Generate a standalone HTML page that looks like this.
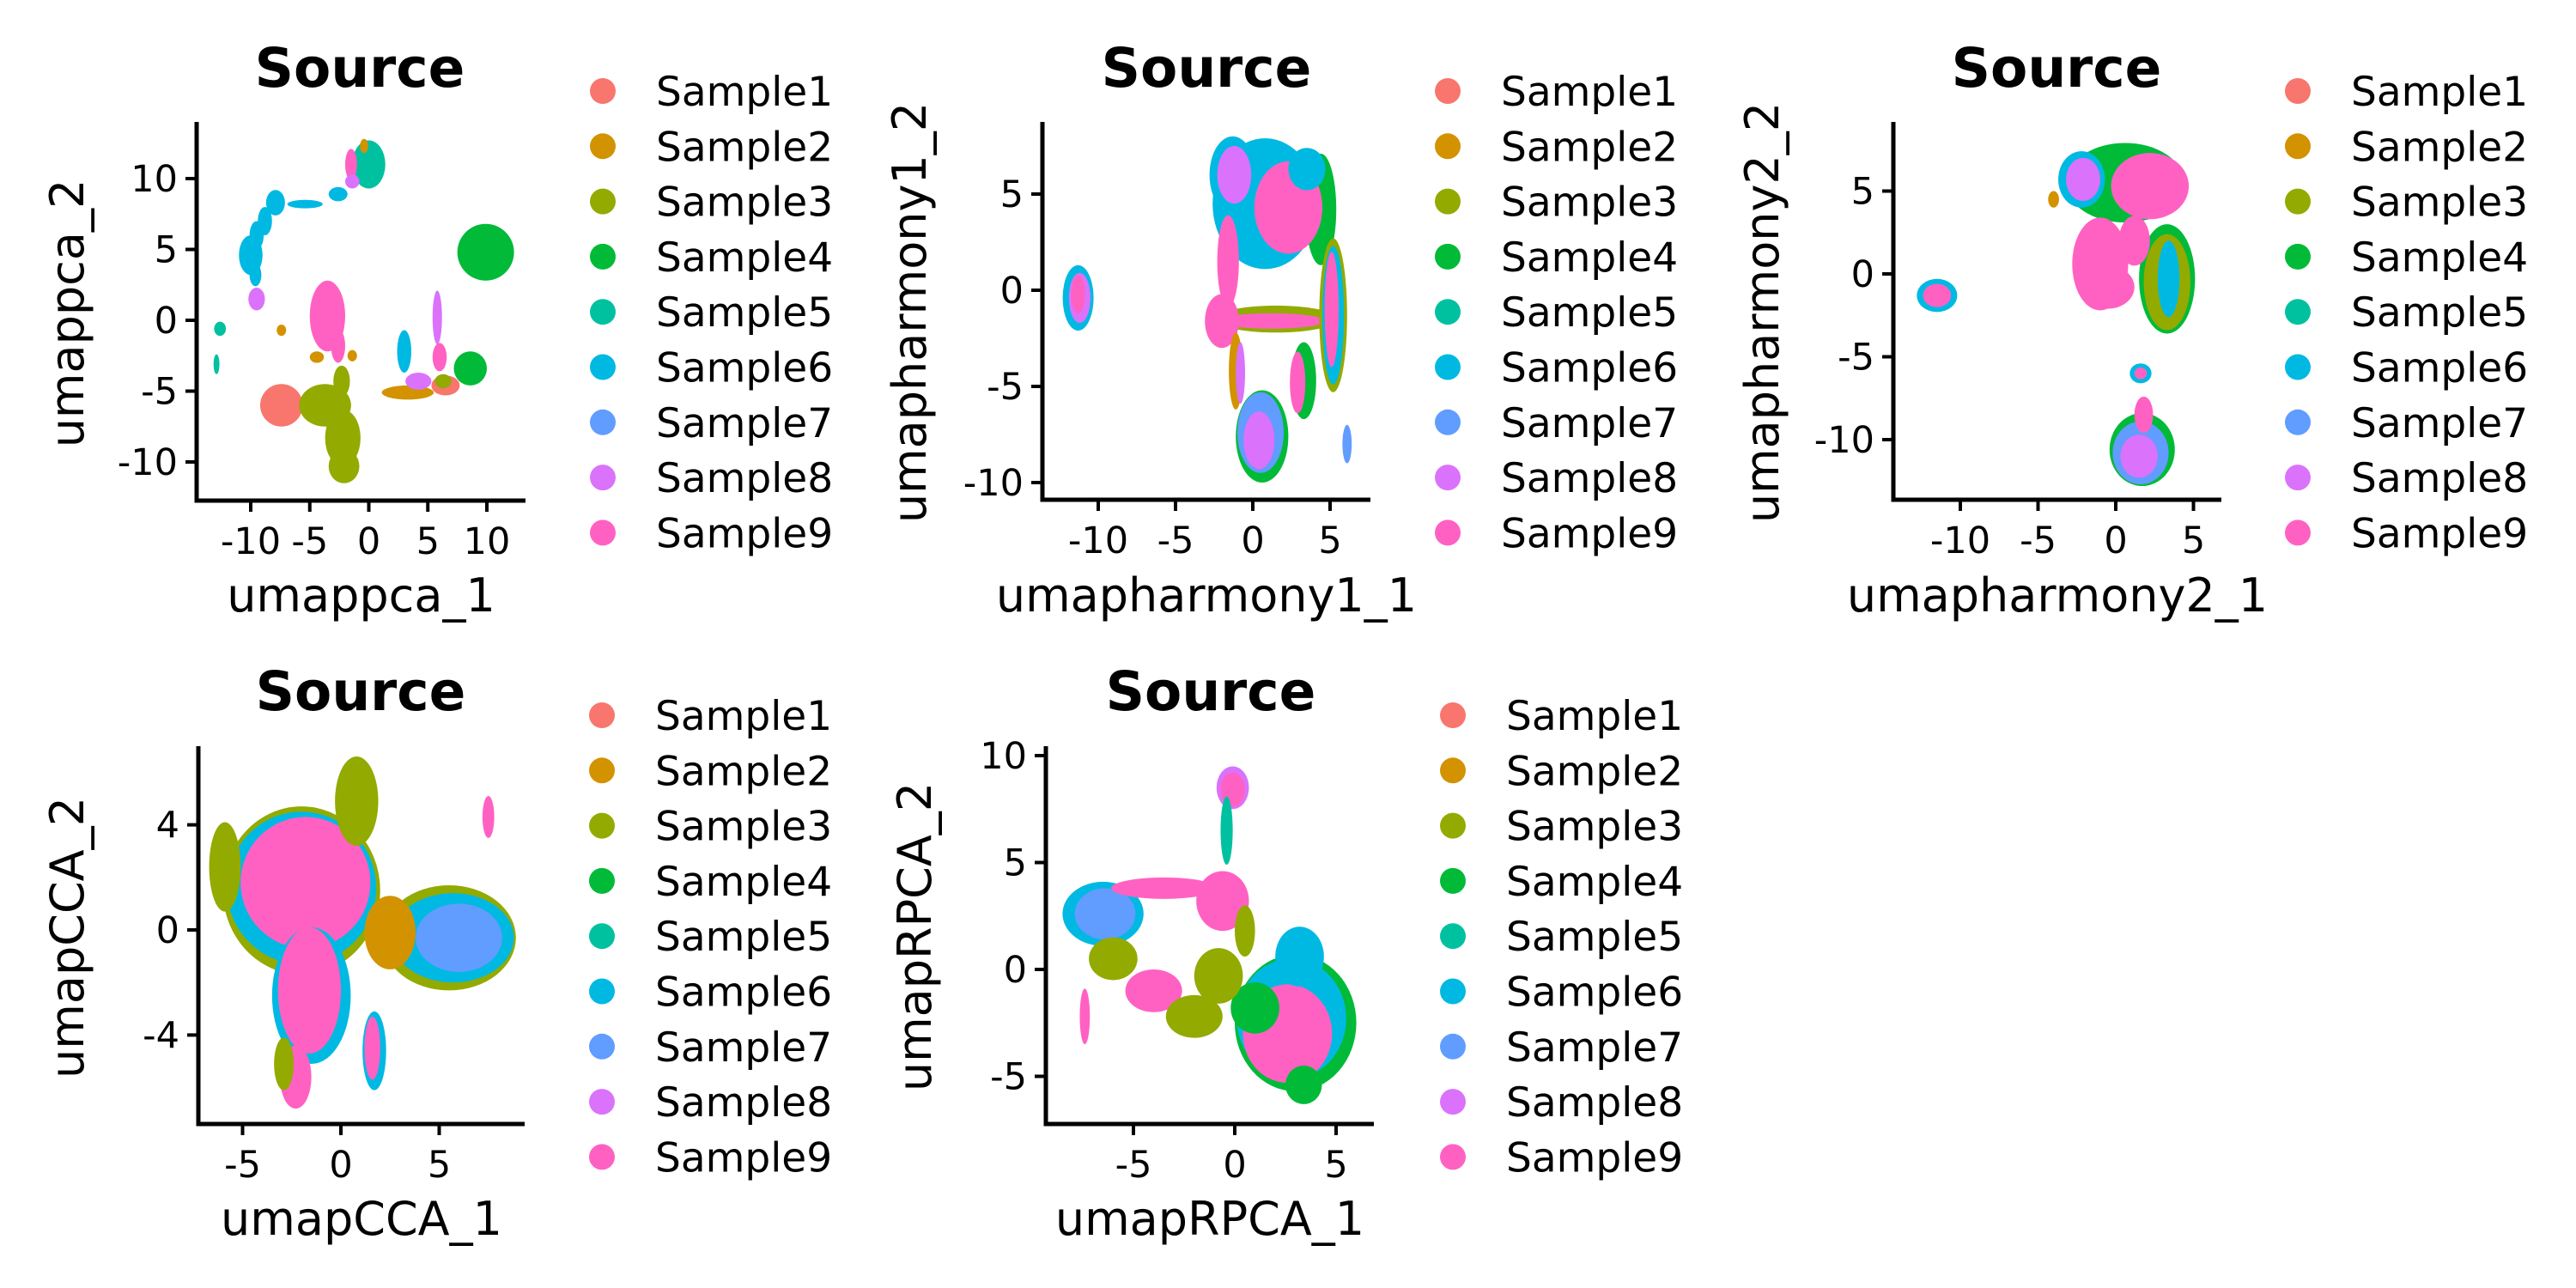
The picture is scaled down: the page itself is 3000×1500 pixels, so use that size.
<!DOCTYPE html>
<html><head><meta charset="utf-8"><style>
html,body{margin:0;padding:0;background:#fff}
svg{display:block}
text{font-family:"DejaVu Sans","Liberation Sans",sans-serif;fill:#000}
</style></head><body>
<svg id="fig" width="3000" height="1500" viewBox="0 0 3000 1500" xmlns="http://www.w3.org/2000/svg"></svg>
<script>
const sampleNames=["Sample1","Sample2","Sample3","Sample4","Sample5","Sample6","Sample7","Sample8","Sample9"];
const sampleColors=["#F8766D","#D39200","#93AA00","#00BA38","#00C19F","#00B9E3","#619CFF","#DB72FB","#FF61C3"];
// blobs: [x, y, rx, ry, sampleIndex] in data units
const pcaBlobs=[[0,11,1.4,1.7,4],[-1.5,11,0.5,1.1,8],[-2.6,8.9,0.8,0.5,5],[-1.4,9.8,0.6,0.5,7],[-0.4,12.3,0.35,0.5,1],
[-7.9,8.3,0.8,0.9,5],[-5.4,8.2,1.5,0.3,5],[-8.8,7,0.6,1,5],[-9.5,6,0.6,1,5],[-10,4.6,1,1.4,5],[-9.6,3.2,0.5,0.8,5],[-9.5,1.5,0.7,0.8,7],
[-12.6,-0.6,0.5,0.5,4],[-12.9,-3.1,0.25,0.7,4],
[-3.5,0.3,1.5,2.5,8],[-2.6,-1.8,0.6,1.2,8],[-7.4,-0.7,0.4,0.4,1],[-4.4,-2.6,0.6,0.4,1],[-1.4,-2.5,0.4,0.4,1],
[-7.4,-6,1.8,1.5,0],[-3.7,-6,2.2,1.5,2],[-2.2,-8.3,1.5,2,2],[-2.1,-10.3,1.3,1.2,2],[-2.3,-4.3,0.7,1.1,2],
[3,-2.2,0.6,1.5,5],[3.3,-5.1,2.2,0.5,1],[4.2,-4.3,1.1,0.6,7],[5.8,0.2,0.4,1.9,7],[6,-2.6,0.6,1,8],[6.5,-4.6,1.2,0.7,0],[6.3,-4.3,0.7,0.5,2],
[8.6,-3.4,1.4,1.2,3],[9.9,4.8,2.4,2,3]];
const h1Blobs=[[-11.3,-0.4,1,1.7,5],[-11.2,-0.4,0.7,1.3,7],[-11.3,-0.2,0.45,1,8],
[0.8,4.5,3.4,3.4,5],[-1.3,6,1.5,2,5],[-1.2,6,1.1,1.5,7],[4.4,4.2,1,2.9,3],[2.3,4.3,2.2,2.4,8],[3.5,6.3,1.2,1.1,5],
[-1.6,1.5,0.7,2.4,8],[1.5,-1.5,4,0.7,2],[1.2,-1.6,3.5,0.4,8],[-2,-1.6,1.1,1.4,8],
[5.2,-1.3,0.9,4,2],[5.2,-1.3,0.7,3.6,5],[5.1,-1,0.45,3,8],[-1.1,-4.2,0.45,2,1],[-0.8,-4.3,0.3,1.6,7],
[3.3,-4.7,0.8,2,3],[2.9,-4.8,0.5,1.6,8],
[0.6,-7.6,1.7,2.4,3],[0.5,-7.4,1.5,2.1,6],[0.4,-7.8,1,1.5,7],[6.1,-8,0.3,1,6]];
const h2Blobs=[[-11.5,-1.3,1.3,1,5],[-11.5,-1.3,0.9,0.7,8],
[0.6,5.5,3.8,2.4,3],[-2.2,5.7,1.5,1.7,5],[-2.1,5.7,1.1,1.3,7],[2.2,5.3,2.5,2,8],[-4,4.5,0.35,0.5,1],
[3.3,-0.3,1.8,3.3,3],[3.3,-0.5,1.5,2.9,2],[3.4,-0.3,0.7,2.3,5],[-1,0.6,1.8,2.8,8],[-0.5,-0.8,1.7,1.3,8],[1.2,2,1,1.5,8],
[1.6,-6,0.7,0.6,5],[1.6,-6,0.4,0.35,8],[1.7,-10.6,2.1,2.2,3],[1.6,-10.8,1.8,1.9,6],[1.5,-11,1.2,1.3,7],[1.8,-8.5,0.6,1.1,8]];
const ccaBlobs=[[-2,1.5,4,3.2,2],[-2,1.6,3.8,2.9,5],[-1.8,1.8,3.3,2.5,8],[-5.9,2.4,0.8,1.7,2],[0.8,4.9,1.1,1.7,2],
[-1.5,-2.5,2,2.6,5],[-1.6,-2.3,1.6,2.4,8],[-2.3,-5.6,0.8,1.2,8],[-2.9,-5.1,0.5,1,2],[1.7,-4.6,0.6,1.5,5],[1.6,-4.5,0.4,1.2,8],
[5.5,-0.3,3.4,2,2],[5.7,-0.3,3.1,1.7,5],[6,-0.3,2.2,1.3,6],[2.5,-0.1,1.3,1.4,1],[7.5,4.3,0.3,0.8,8]];
const rpcaBlobs=[[-0.1,8.5,0.8,1,7],[-0.1,8.4,0.6,0.8,8],[-0.4,6.5,0.3,1.6,4],[-0.6,3.2,1.3,1.4,8],[0.5,1.8,0.5,1.2,2],
[-6.5,2.6,2,1.5,5],[-6.4,2.6,1.5,1.2,6],[-3.5,3.8,2.6,0.5,8],[-6,0.5,1.2,1,2],[-4,-1,1.4,1,8],[-2,-2.2,1.4,1,2],
[3,-2.5,3,3.2,3],[2.8,-2.3,2.7,2.8,5],[2.6,-3,2.2,2.3,8],[1,-1.8,1.2,1.2,3],[3.2,0.6,1.2,1.4,5],[3.4,-5.4,0.9,0.9,3],
[-7.4,-2.2,0.25,1.3,8],[-0.8,-0.3,1.2,1.3,2]];
const pcaXT=[-10,-5,0,5,10],pcaYT=[-10,-5,0,5,10];
const h1XT=[-10,-5,0,5],h1YT=[-10,-5,0,5];
const h2XT=[-10,-5,0,5],h2YT=[-10,-5,0,5];
const ccaXT=[-5,0,5],ccaYT=[-4,0,4];
const rpcaXT=[-5,0,5],rpcaYT=[-5,0,5,10];

const NS="http://www.w3.org/2000/svg";
const svg=document.getElementById('fig');
function mk(tag,attrs,parent,txt){const e=document.createElementNS(NS,tag);for(const k in attrs)e.setAttribute(k,attrs[k]);if(txt!==undefined)e.textContent=txt;(parent||svg).appendChild(e);return e;}

function panel(o){
  const g=mk('g',{});
  
  
  const sx=v=>o.x0+o.ux*v, sy=v=>o.y0-o.uy*v;
  const pg=mk('g',{},g);
  
  
  o.blobs.forEach(b=>{
    const e=mk('ellipse',{cx:sx(b[0]),cy:sy(b[1]),rx:Math.abs(o.ux*b[2]),ry:Math.abs(o.uy*b[3]),fill:sampleColors[b[4]]},pg);
    
    
  });
  const ax=mk('line',{x1:o.left,y1:o.bottom,x2:o.right,y2:o.bottom,stroke:'#000','stroke-width':5},g);
  
  
  const ay=mk('line',{x1:o.left,y1:o.top,x2:o.left,y2:o.bottom+2.5,stroke:'#000','stroke-width':5},g);
  
  
  o.xt.forEach(v=>{
    mk('line',{x1:sx(v),y1:o.bottom,x2:sx(v),y2:o.bottom+13,stroke:'#000','stroke-width':4},g);
    const t=mk('text',{x:sx(v),y:o.bottom+62,'font-size':43,'text-anchor':'middle'},g,String(v));
    
    
  });
  o.yt.forEach(v=>{
    mk('line',{x1:o.left-13,y1:sy(v),x2:o.left,y2:sy(v),stroke:'#000','stroke-width':4},g);
    const t=mk('text',{x:o.left-22,y:sy(v)+15,'font-size':43,'text-anchor':'end'},g,String(v));
    
    
  });
  const tt=mk('text',{x:o.tx,y:o.ty,'font-size':63,'font-weight':'bold','text-anchor':'middle'},g,'Source');
  
  
  const xl=mk('text',{x:(o.left+o.right)/2,y:o.xly,'font-size':54,'text-anchor':'middle'},g,o.xlab);
  
  
  const yl=mk('text',{x:0,y:0,'font-size':54,'text-anchor':'middle',transform:`translate(${o.ylx},${o.yly}) rotate(-90)`},g,o.ylab);
  
  
  sampleNames.forEach((n,i)=>{
    const lg=mk('g',{},g);
    
    
    const cy=o.ly+i*64.3;
    mk('circle',{cx:o.ldx,cy:cy,r:15,fill:sampleColors[i]},lg);
    mk('text',{x:o.ldx+62,y:cy+17,'font-size':47},lg,n);
  });
}
panel({name:'umappca',blobs:pcaBlobs,x0:429.5,ux:13.75,y0:373,uy:16.5,left:229,right:612,top:142,bottom:583,xt:pcaXT,yt:pcaYT,tx:419,ty:101,xlab:'umappca_1',ylab:'umappca_2',xly:712,ylx:97,yly:365,ldx:702,ly:106});
panel({name:'umapharmony1',blobs:h1Blobs,x0:1459,ux:18,y0:338,uy:22.4,left:1214,right:1596,top:142,bottom:582,xt:h1XT,yt:h1YT,tx:1405,ty:101,xlab:'umapharmony1_1',ylab:'umapharmony1_2',xly:712,ylx:1078,yly:364,ldx:1686,ly:106});
panel({name:'umapharmony2',blobs:h2Blobs,x0:2464,ux:18.1,y0:319,uy:19.3,left:2205,right:2587,top:142,bottom:582,xt:h2XT,yt:h2YT,tx:2395,ty:101,xlab:'umapharmony2_1',ylab:'umapharmony2_2',xly:712,ylx:2071,yly:364,ldx:2676,ly:106});
panel({name:'umapcca',blobs:ccaBlobs,x0:397,ux:22.9,y0:1083,uy:30.6,left:231,right:611,top:869,bottom:1309,xt:ccaXT,yt:ccaYT,tx:420,ty:827,xlab:'umapCCA_1',ylab:'umapCCA_2',xly:1438,ylx:97,yly:1092,ldx:701,ly:833});
panel({name:'umaprpca',blobs:rpcaBlobs,x0:1438,ux:23.6,y0:1129,uy:24.9,left:1218,right:1600,top:869,bottom:1309,xt:rpcaXT,yt:rpcaYT,tx:1410,ty:827,xlab:'umapRPCA_1',ylab:'umapRPCA_2',xly:1438,ylx:1084,yly:1091,ldx:1692,ly:833});
</script>
</body></html>
